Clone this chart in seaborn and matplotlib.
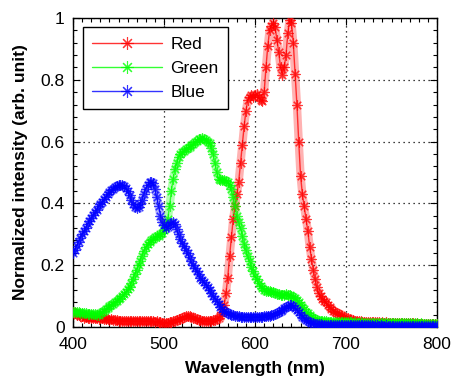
import numpy as np
import pandas as pd
import matplotlib
matplotlib.use("Agg")
import matplotlib.pyplot as plt
from matplotlib.ticker import MultipleLocator
import seaborn as sns

# Emission spectra of the three LED channels, sampled every 2 nm (400-800 nm)
wavelength = list(range(400, 802, 2))

red = [
    0.050, 0.045, 0.040, 0.040, 0.035, 0.035, 0.030, 0.032, 0.030, 0.030, 0.030,
    0.028, 0.030, 0.028, 0.027, 0.030, 0.028, 0.025, 0.026, 0.025, 0.024,
    0.025, 0.023, 0.022, 0.022, 0.020, 0.021, 0.020, 0.020, 0.021, 0.020,
    0.020, 0.019, 0.020, 0.018, 0.020, 0.018, 0.019, 0.020, 0.018, 0.020,
    0.020, 0.018, 0.020, 0.019, 0.017, 0.018, 0.016, 0.015, 0.014, 0.012,
    0.012, 0.013, 0.015, 0.016, 0.018, 0.020, 0.022, 0.025, 0.027, 0.030,
    0.032, 0.035, 0.036, 0.035, 0.033, 0.030, 0.028, 0.026, 0.024, 0.022,
    0.021, 0.020, 0.020, 0.019, 0.020, 0.021, 0.022, 0.024, 0.027, 0.030,
    0.035, 0.050, 0.070, 0.110, 0.160, 0.230, 0.290, 0.350, 0.390, 0.430,
    0.470, 0.530, 0.590, 0.650, 0.700, 0.735, 0.745, 0.750, 0.745, 0.750,
    0.755, 0.745, 0.735, 0.730, 0.760, 0.840, 0.910, 0.960, 0.975, 0.985,
    0.970, 0.930, 0.890, 0.840, 0.815, 0.840, 0.880, 0.950, 0.995, 0.985,
    0.920, 0.820, 0.720, 0.600, 0.490, 0.430, 0.390, 0.350, 0.310, 0.260,
    0.220, 0.185, 0.155, 0.130, 0.110, 0.100, 0.090, 0.085, 0.080, 0.070,
    0.065, 0.058, 0.052, 0.048, 0.045, 0.042, 0.038, 0.035, 0.032, 0.030,
    0.028, 0.025, 0.023, 0.022, 0.020, 0.019, 0.018, 0.018, 0.017, 0.017,
    0.016, 0.016, 0.016, 0.015, 0.016, 0.015, 0.015, 0.015, 0.014, 0.015,
    0.014, 0.015, 0.014, 0.014, 0.014, 0.013, 0.014, 0.013, 0.013, 0.013,
    0.013, 0.012, 0.013, 0.012, 0.012, 0.012, 0.012, 0.011, 0.012, 0.011,
    0.011, 0.011, 0.011, 0.010, 0.011, 0.010, 0.010, 0.010, 0.010, 0.010,
]

green = [
    0.050, 0.050, 0.048, 0.047, 0.046, 0.045, 0.045, 0.044, 0.043, 0.042, 0.042,
    0.042, 0.041, 0.040, 0.040, 0.045, 0.048, 0.052, 0.057, 0.062, 0.068,
    0.072, 0.076, 0.080, 0.085, 0.090, 0.095, 0.100, 0.107, 0.114, 0.122,
    0.130, 0.142, 0.155, 0.170, 0.185, 0.200, 0.215, 0.230, 0.245, 0.258,
    0.268, 0.276, 0.282, 0.286, 0.290, 0.293, 0.296, 0.300, 0.305, 0.315,
    0.330, 0.350, 0.390, 0.440, 0.480, 0.510, 0.530, 0.550, 0.560, 0.565,
    0.570, 0.575, 0.580, 0.583, 0.588, 0.593, 0.598, 0.603, 0.607, 0.610,
    0.612, 0.610, 0.605, 0.598, 0.595, 0.580, 0.560, 0.530, 0.500, 0.480,
    0.475, 0.475, 0.475, 0.472, 0.470, 0.460, 0.445, 0.420, 0.390, 0.360,
    0.340, 0.320, 0.295, 0.270, 0.250, 0.230, 0.215, 0.195, 0.180, 0.165,
    0.155, 0.142, 0.132, 0.125, 0.120, 0.118, 0.117, 0.115, 0.114, 0.112,
    0.110, 0.108, 0.106, 0.104, 0.103, 0.104, 0.106, 0.105, 0.103, 0.100,
    0.097, 0.093, 0.088, 0.080, 0.072, 0.064, 0.057, 0.050, 0.044, 0.038,
    0.033, 0.029, 0.026, 0.023, 0.021, 0.020, 0.019, 0.018, 0.018, 0.017,
    0.017, 0.017, 0.016, 0.016, 0.016, 0.016, 0.015, 0.016, 0.015, 0.015,
    0.015, 0.015, 0.015, 0.014, 0.015, 0.014, 0.014, 0.015, 0.014, 0.014,
    0.014, 0.014, 0.013, 0.014, 0.014, 0.013, 0.014, 0.013, 0.013, 0.014,
    0.013, 0.013, 0.013, 0.013, 0.012, 0.013, 0.013, 0.012, 0.013, 0.012,
    0.012, 0.013, 0.012, 0.012, 0.012, 0.012, 0.011, 0.012, 0.012, 0.011,
    0.012, 0.011, 0.011, 0.011, 0.011, 0.011, 0.010, 0.011, 0.010, 0.011,
]

blue = [
    0.240, 0.250, 0.262, 0.275, 0.287, 0.300, 0.310, 0.320, 0.332, 0.343, 0.352,
    0.362, 0.372, 0.380, 0.390, 0.398, 0.406, 0.414, 0.422, 0.430, 0.437,
    0.443, 0.448, 0.453, 0.457, 0.460, 0.461, 0.460, 0.456, 0.450, 0.440,
    0.428, 0.412, 0.398, 0.388, 0.384, 0.388, 0.398, 0.412, 0.430, 0.448,
    0.460, 0.468, 0.470, 0.465, 0.448, 0.420, 0.390, 0.360, 0.340, 0.330,
    0.322, 0.325, 0.332, 0.338, 0.340, 0.333, 0.318, 0.300, 0.285, 0.272,
    0.262, 0.250, 0.238, 0.225, 0.212, 0.200, 0.190, 0.180, 0.170, 0.160,
    0.152, 0.145, 0.137, 0.128, 0.120, 0.110, 0.100, 0.092, 0.085, 0.075,
    0.066, 0.058, 0.052, 0.048, 0.045, 0.042, 0.040, 0.038, 0.037, 0.036,
    0.035, 0.034, 0.034, 0.033, 0.032, 0.033, 0.032, 0.031, 0.032, 0.033,
    0.033, 0.032, 0.033, 0.034, 0.035, 0.036, 0.035, 0.037, 0.038, 0.040,
    0.042, 0.045, 0.048, 0.052, 0.056, 0.060, 0.064, 0.067, 0.070, 0.072,
    0.068, 0.062, 0.055, 0.047, 0.040, 0.034, 0.028, 0.023, 0.019, 0.016,
    0.014, 0.012, 0.011, 0.010, 0.009, 0.009, 0.008, 0.008, 0.008, 0.007,
    0.007, 0.007, 0.007, 0.006, 0.007, 0.006, 0.006, 0.006, 0.007, 0.006,
    0.006, 0.006, 0.005, 0.006, 0.006, 0.005, 0.006, 0.005, 0.005, 0.005,
    0.005, 0.005, 0.005, 0.005, 0.004, 0.005, 0.005, 0.004, 0.005, 0.004,
    0.004, 0.005, 0.004, 0.004, 0.004, 0.004, 0.004, 0.004, 0.004, 0.004,
    0.004, 0.004, 0.003, 0.004, 0.004, 0.003, 0.004, 0.003, 0.004, 0.003,
    0.003, 0.004, 0.003, 0.003, 0.003, 0.003, 0.003, 0.003, 0.003, 0.003,
]

series_names = ["Red", "Green", "Blue"]
series_colors = {"Red": "#ff0000", "Green": "#00ff00", "Blue": "#0000ff"}

frames = []
for name, vals in zip(series_names, [red, green, blue]):
    frames.append(pd.DataFrame({"Wavelength": wavelength,
                                "Intensity": vals,
                                "Series": name}))
df = pd.concat(frames, ignore_index=True)

sns.set_style("ticks")
plt.rcParams["font.family"] = ["Liberation Sans", "DejaVu Sans"]
for key in ("text.color", "axes.labelcolor", "xtick.color", "ytick.color",
            "axes.edgecolor"):
    plt.rcParams[key] = "black"

fig = plt.figure(figsize=(4.54, 3.81), dpi=100)
ax = fig.add_axes([0.161, 0.1417, 0.8016, 0.8111])

# soft band under each trace, so the densely packed asterisks read as a ribbon
sns.lineplot(data=df, x="Wavelength", y="Intensity", hue="Series",
             hue_order=series_names, palette=series_colors,
             linewidth=6.0, estimator=None, sort=False, ax=ax,
             alpha=0.3, legend=False, zorder=2)

# eight-spoke asterisk marker
asterisk = (8, 2, 0)

sns.lineplot(data=df, x="Wavelength", y="Intensity", hue="Series",
             hue_order=series_names, palette=series_colors,
             marker=asterisk, markersize=7.5, markeredgewidth=0.8,
             linewidth=1.0, estimator=None, sort=False, ax=ax,
             alpha=0.75, zorder=3)

# asterisks are drawn with their edges, so give them the line colour
for line in ax.lines:
    line.set_markeredgecolor(line.get_color())

ax.set_xlim(400, 800)
ax.set_ylim(0, 1)
ax.xaxis.set_major_locator(MultipleLocator(100))
ax.xaxis.set_minor_locator(MultipleLocator(10))
ax.yaxis.set_minor_locator(MultipleLocator(0.04))
ax.set_yticks([0, 0.2, 0.4, 0.6, 0.8, 1.0])
ax.set_yticklabels(["0", "0.2", "0.4", "0.6", "0.8", "1"])

ax.tick_params(which="both", direction="in", top=True, right=True,
               labelsize=12.5, color="black", width=0.8)
ax.tick_params(which="major", length=5)
ax.tick_params(which="minor", length=3)
ax.tick_params(axis="x", which="major", pad=7)
ax.tick_params(axis="y", which="major", pad=6)

ax.grid(True, which="major", linestyle=(0, (1, 3)), color="black",
        linewidth=0.9, zorder=0)
ax.set_axisbelow(True)
for sp in ax.spines.values():
    sp.set_color("black")
    sp.set_linewidth(1.0)

ax.set_xlabel("Wavelength (nm)", fontsize=12.5, fontweight="bold", labelpad=7)
ax.set_ylabel("Normalized intensity (arb. unit)", fontsize=12.5,
              fontweight="bold", labelpad=9)

leg = ax.legend(loc="upper left", bbox_to_anchor=(0.027, 0.97),
                fontsize=12.5, frameon=True, fancybox=False,
                edgecolor="black", framealpha=1, handlelength=4.0,
                borderaxespad=0, borderpad=0.55, labelspacing=0.5,
                handletextpad=0.5)
leg.get_frame().set_linewidth(1.0)
for h in leg.legend_handles:
    h.set_alpha(0.8)
    h.set_markeredgecolor(h.get_color())
    h.set_markersize(9)

fig.savefig("out.png", dpi=100)
